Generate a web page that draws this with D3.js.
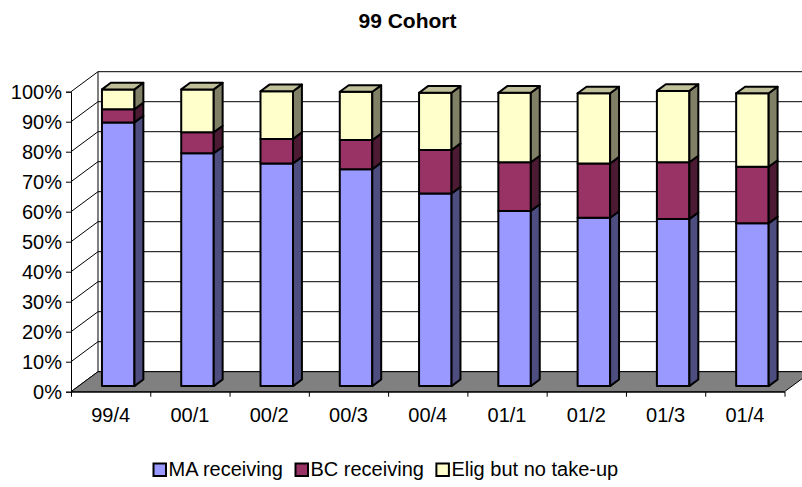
<!DOCTYPE html>
<html>
<head>
<meta charset="utf-8">
<script src="https://cdn.jsdelivr.net/npm/d3@7"></script>
<style>
  body { margin: 0; background: #fff; }
  text { font-family: "Liberation Sans", Arial, sans-serif; }
</style>
</head>
<body>
<div id="chart"></div>
<script>
// data (share of the 99 cohort)
var quarters = ["99/4", "00/1", "00/2", "00/3", "00/4", "01/1", "01/2", "01/3", "01/4"];
var seriesNames = ["MA receiving", "BC receiving", "Elig but no take-up"];
var maReceiving = [0.879, 0.776, 0.742, 0.723, 0.642, 0.584, 0.561, 0.557, 0.543];
var bcReceiving = [0.044, 0.070, 0.082, 0.097, 0.145, 0.162, 0.181, 0.189, 0.188];
var eligNoTakeup = [0.066, 0.143, 0.159, 0.161, 0.191, 0.232, 0.234, 0.238, 0.245];
var yTicks = [0, 0.1, 0.2, 0.3, 0.4, 0.5, 0.6, 0.7, 0.8, 0.9, 1];

var width = 802, height = 487;
var plotL = 71, plotR = 784.5, plotB = 391.7, plotT = 91.7;
var DX = 27, DY = 20;          // depth offset of the back wall
var z0 = 0.28, z1 = 0.61;      // bar depth (fraction of floor depth)

var front = ["#9999ff", "#993366", "#ffffcc"];
var side  = ["#4d4d80", "#4d1a33", "#808066"];
var topC  = ["#7373bf", "#73264d", "#bfbf99"];

var svg = d3.select("#chart").append("svg")
  .attr("width", width)
  .attr("height", height);

var x = d3.scaleBand().domain(quarters).range([plotL, plotR]).paddingInner(0.59).paddingOuter(0.295);
var xEdge = d3.scaleLinear().domain([0, quarters.length]).range([plotL, plotR]);
var y = d3.scaleLinear().domain([0, 1]).range([plotB, plotT]);

function p(xv, yv, z) { return [xv + z * DX, yv - z * DY]; }
function poly(pts) { return pts.map(function(d) { return d.join(","); }).join(" "); }

// back wall + side wall
svg.append("polygon")
  .attr("points", poly([p(plotL, y(0), 1), p(plotL, y(1), 1), [width + 20, y(1) - DY], [width + 20, y(0) - DY]]))
  .style("fill", "#fff");

svg.selectAll(".grid")
  .data(yTicks)
  .enter().append("line")
  .attr("class", "grid")
  .attr("x1", function(d) { return p(plotL, y(d), 1)[0]; })
  .attr("y1", function(d) { return p(plotL, y(d), 1)[1]; })
  .attr("x2", width + 20)
  .attr("y2", function(d) { return p(plotL, y(d), 1)[1]; })
  .style("stroke", "#000")
  .style("stroke-width", 1);

svg.selectAll(".sidegrid")
  .data(yTicks)
  .enter().append("line")
  .attr("class", "sidegrid")
  .attr("x1", plotL)
  .attr("y1", function(d) { return y(d); })
  .attr("x2", function(d) { return p(plotL, y(d), 1)[0]; })
  .attr("y2", function(d) { return p(plotL, y(d), 1)[1]; })
  .style("stroke", "#000")
  .style("stroke-width", 1);

svg.append("line")
  .attr("x1", p(plotL, y(0), 1)[0]).attr("y1", p(plotL, y(0), 1)[1])
  .attr("x2", p(plotL, y(1), 1)[0]).attr("y2", p(plotL, y(1), 1)[1])
  .style("stroke", "#000");

// floor
svg.append("polygon")
  .attr("points", poly([[plotL, y(0)], [plotR, y(0)], p(plotR, y(0), 1), p(plotL, y(0), 1)]))
  .style("fill", "#808080")
  .style("stroke", "#000")
  .style("stroke-width", 1);

// stacked bars
var layers = [maReceiving, bcReceiving, eligNoTakeup];
var stacks = quarters.map(function(q, i) {
  var base = 0;
  return layers.map(function(arr, k) {
    var s = {q: q, k: k, y0: base, y1: base + arr[i], last: k === layers.length - 1};
    base += arr[i];
    return s;
  });
});

var bw = x.bandwidth();
var bar = svg.selectAll(".bar")
  .data(stacks)
  .enter().append("g")
  .attr("class", "bar");

var seg = bar.selectAll("g")
  .data(function(d) { return d; })
  .enter().append("g");

seg.append("polygon")
  .attr("points", function(d) {
    var xl = x(d.q), xr = x(d.q) + bw;
    return poly([p(xl, y(d.y0), z0), p(xr, y(d.y0), z0), p(xr, y(d.y1), z0), p(xl, y(d.y1), z0)]);
  })
  .style("fill", function(d) { return front[d.k]; });

seg.append("polygon")
  .attr("points", function(d) {
    var xr = x(d.q) + bw;
    return poly([p(xr, y(d.y0), z0), p(xr, y(d.y0), z1), p(xr, y(d.y1), z1), p(xr, y(d.y1), z0)]);
  })
  .style("fill", function(d) { return side[d.k]; });

seg.filter(function(d) { return d.last; }).append("polygon")
  .attr("points", function(d) {
    var xl = x(d.q), xr = x(d.q) + bw;
    return poly([p(xl, y(d.y1), z0), p(xr, y(d.y1), z0), p(xr, y(d.y1), z1), p(xl, y(d.y1), z1)]);
  })
  .style("fill", function(d) { return topC[d.k]; });

seg.selectAll("polygon")
  .style("stroke", "#000")
  .style("stroke-width", 2)
  .style("stroke-linejoin", "round");

// axes
var yAxis = d3.axisLeft(y).tickValues(yTicks).tickFormat(d3.format(".0%")).tickSize(5).tickPadding(4);
svg.append("g")
  .attr("class", "y axis")
  .attr("transform", "translate(" + plotL + ",0)")
  .call(yAxis)
  .call(function(g) { g.selectAll("text").style("font-size", "20px").style("fill", "#000"); });

svg.append("g")
  .attr("class", "x axis")
  .attr("transform", "translate(0," + plotB + ")")
  .call(d3.axisBottom(xEdge).tickValues(d3.range(quarters.length + 1)).tickFormat("").tickSize(5).tickSizeOuter(0));

svg.append("g")
  .attr("class", "x labels")
  .attr("transform", "translate(0," + plotB + ")")
  .call(d3.axisBottom(x).tickSize(0).tickPadding(16))
  .call(function(g) {
    g.select(".domain").remove();
    g.selectAll("text").style("font-size", "20px").style("fill", "#000");
  });

svg.selectAll(".axis path, .axis line").style("stroke", "#000");

// title
svg.append("text")
  .attr("x", 407.5)
  .attr("y", 28)
  .style("text-anchor", "middle")
  .style("font-weight", "bold")
  .style("font-size", "21px")
  .text("99 Cohort");

// legend
var legend = svg.append("g").attr("class", "legend");
var lx = 153.5;
seriesNames.forEach(function(name, i) {
  legend.append("rect")
    .attr("x", lx)
    .attr("y", 463.5)
    .attr("width", 12.5)
    .attr("height", 12.5)
    .style("fill", front[i])
    .style("stroke", "#000")
    .style("stroke-width", 2);
  var t = legend.append("text")
    .attr("x", lx + 15)
    .attr("y", 476)
    .style("font-size", "20px")
    .text(name);
  lx += 15 + t.node().getComputedTextLength() + 12.5;
});
</script>
</body>
</html>
